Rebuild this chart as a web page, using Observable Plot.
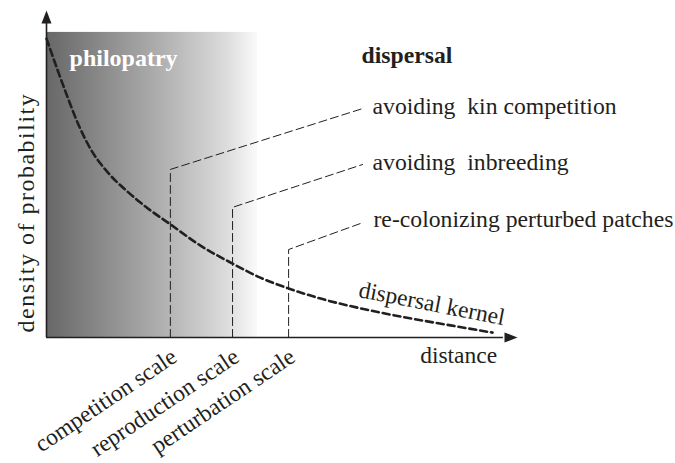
<!DOCTYPE html>
<html>
<head>
<meta charset="utf-8">
<script src="https://cdn.jsdelivr.net/npm/d3@7"></script>
<script src="https://cdn.jsdelivr.net/npm/@observablehq/plot@0.6"></script>
<style>
  html, body { margin: 0; padding: 0; background: #fff; }
</style>
</head>
<body>
<div id="chart"></div>
<script>
// Dispersal kernel (distance vs density of probability)
const kernelDistance = [0, 0.23, 0.45, 0.66, 0.93, 1.30, 1.72, 2.14, 2.63, 3.27, 3.95, 4.54, 5.14, 5.82, 6.67, 7.52, 8.58, 9.47];
const kernelDensity  = [9.14, 8.20, 7.34, 6.57, 5.78, 5.05, 4.46, 3.96, 3.46, 2.81, 2.26, 1.83, 1.50, 1.19, 0.89, 0.64, 0.37, 0.15];

// Characteristic scales on the distance axis
const scaleNames   = ["competition scale", "reproduction scale", "perturbation scale"];
const scaleX       = [2.63, 3.95, 5.14];
const scaleTop     = [5.14, 3.98, 2.69];

// Dispersal motives linked to each scale
const motives      = ["avoiding\u00a0\u00a0kin competition", "avoiding\u00a0\u00a0inbreeding", "re-colonizing perturbed patches"];
const motiveX      = [6.71, 6.71, 6.73];
const motiveY      = [7.00, 5.29, 3.52];

// Philopatry zone
const philopatryExtent = {x: 4.48, y: 9.33};

const kernel = kernelDistance.map((d, i) => ({x: d, y: kernelDensity[i]}));
const leaders = scaleNames.flatMap((name, i) => [
  {name, x: scaleX[i], y: 0},
  {name, x: scaleX[i], y: scaleTop[i]},
  {name, x: motiveX[i], y: motiveY[i]}
]);
const motiveRows = motives.map((m, i) => ({label: m, x: motiveX[i], y: motiveY[i]}));
const scaleRows = scaleNames.map((s, i) => ({label: s, x: scaleX[i]}));

const serif = "'Liberation Serif', 'Times New Roman', serif";
const ink = "#231f20";

const arrowUp = { draw(ctx) { ctx.moveTo(0, 0); ctx.lineTo(-5, 13); ctx.lineTo(5, 13); ctx.closePath(); } };
const arrowRight = { draw(ctx) { ctx.moveTo(0, 0); ctx.lineTo(-13, -5); ctx.lineTo(-13, 5); ctx.closePath(); } };

const defs = () => {
  const d = d3.create("svg:defs");
  const g = d.append("linearGradient").attr("id", "phiGrad").attr("x1", "0%").attr("x2", "100%").attr("y1", "0%").attr("y2", "0%");
  g.append("stop").attr("offset", "0%").attr("stop-color", "#676767");
  g.append("stop").attr("offset", "55%").attr("stop-color", "#b0b0b0");
  g.append("stop").attr("offset", "85%").attr("stop-color", "#dbdbdb");
  g.append("stop").attr("offset", "100%").attr("stop-color", "#fafafa");
  return d.node();
};

const chart = Plot.plot({
  width: 675,
  height: 463,
  marginLeft: 46,
  marginRight: 158,
  marginTop: 10,
  marginBottom: 126,
  x: {domain: [0, 10], axis: null},
  y: {domain: [0, 10], axis: null},
  style: {background: "#fff", overflow: "visible"},
  marks: [
    defs,
    Plot.rect([philopatryExtent], {x1: () => 0, x2: d => d.x, y1: () => 0, y2: d => d.y, fill: "url(#phiGrad)"}),
    // axes
    Plot.ruleX([0], {y1: 0, y2: 9.6, stroke: ink, strokeWidth: 1.6}),
    Plot.ruleY([0], {x1: 0, x2: 9.7, stroke: ink, strokeWidth: 1.6}),
    Plot.dot([{x: 0, y: 10}], {x: "x", y: "y", symbol: arrowUp, fill: ink, stroke: "none"}),
    Plot.dot([{x: 10, y: 0}], {x: "x", y: "y", symbol: arrowRight, fill: ink, stroke: "none"}),
    // scale leaders
    Plot.line(leaders, {x: "x", y: "y", z: "name", stroke: ink, strokeWidth: 1, strokeDasharray: "8,4", curve: "linear"}),
    // kernel
    Plot.line(kernel, {x: "x", y: "y", stroke: ink, strokeWidth: 2.6, strokeDasharray: "7,4", curve: "monotone-x"}),
    // texts
    Plot.text(["philopatry"], {x: () => 0.49, y: () => 8.29, text: d => d, textAnchor: "start", lineAnchor: "bottom", fill: "#fff", fontFamily: serif, fontWeight: "bold", fontSize: 24}),
    Plot.text(["dispersal"], {x: () => 6.69, y: () => 8.38, text: d => d, textAnchor: "start", lineAnchor: "bottom", fill: ink, fontFamily: serif, fontWeight: "bold", fontSize: 23.7}),
    Plot.text(motiveRows, {x: "x", y: "y", text: "label", dx: 10, dy: 5, textAnchor: "start", lineAnchor: "bottom", fill: ink, fontFamily: serif, fontSize: 23.7}),
    Plot.text(scaleRows, {x: "x", y: () => 0, text: "label", dx: 8, dy: 23, rotate: -34, textAnchor: "end", lineAnchor: "bottom", fill: ink, fontFamily: serif, fontSize: 23.5}),
    Plot.text(["dispersal kernel"], {x: () => 8.15, y: () => 0.81, text: d => d, rotate: 11, textAnchor: "middle", lineAnchor: "bottom", fill: ink, fontFamily: serif, fontSize: 23.5}),
    Plot.text(["distance"], {x: () => 8.75, y: () => 0, text: d => d, dy: 25, textAnchor: "middle", lineAnchor: "bottom", fill: ink, fontFamily: serif, fontSize: 23.5}),
    Plot.text(["density of probability"], {x: () => 0, y: () => 3.82, text: d => d, dx: -13, rotate: -90, textAnchor: "middle", lineAnchor: "bottom", fill: ink, fontFamily: serif, fontSize: 24})
  ]
});
d3.select(chart).selectAll("text").filter(function() { return this.textContent === "density of probability"; })
  .style("letter-spacing", "1.5px");
document.getElementById("chart").appendChild(chart);
</script>
</body>
</html>
